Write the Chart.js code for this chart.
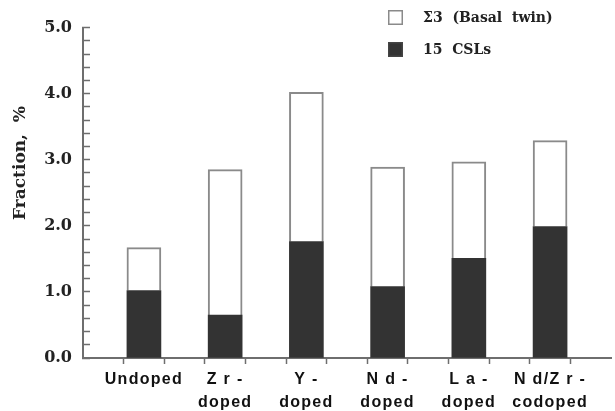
<!DOCTYPE html>
<html>
<head>
<meta charset="utf-8">
<script src="https://cdn.jsdelivr.net/npm/chart.js@4/dist/chart.umd.min.js"></script>
<style>
  html, body { margin: 0; padding: 0; background: #fff; }
  #wrap { width: 615px; height: 411px; position: relative; }
</style>
</head>
<body>
<div id="wrap"><canvas id="c"></canvas></div>
<script>
// values (fraction, %)
const CATEGORIES = [['Undoped'], ['Z r -', 'doped'], ['Y -', 'doped'], ['N d -', 'doped'], ['L a -', 'doped'], ['N d/Z r -', 'codoped']];
const CSL_15 = [1.02, 0.65, 1.76, 1.08, 1.51, 1.99];   // dark, bottom of stack
const SIGMA3 = [0.65, 2.20, 2.26, 1.81, 1.46, 1.30];   // white, on top
const SERIES_NAMES = ['15  CSLs', 'Σ3  (Basal  twin)'];
const Y_MAX = 5;

const AXIS = '#6e6e6e';
const isInt = v => Math.abs(v - Math.round(v)) < 1e-6;

// x ticks every quarter slot; only the ones flanking each bar get a mark
const X_MIN = -0.75, X_MAX = CATEGORIES.length - 0.25;
const X_TICKS = [];
for (let v = X_MIN; v <= X_MAX + 1e-6; v += 0.25) X_TICKS.push(v);
const X_TICK_COLORS = X_TICKS.map((v, k) => (k % 2 === 0 && k > 0 && k < X_TICKS.length - 1) ? AXIS : 'rgba(0,0,0,0)');

// legend box + rotated y title, drawn on the canvas
const extras = {
  id: 'extras',
  beforeDatasetsDraw(chart) {
    // x labels are drawn after this (ticks.z = 1), spaced like the original
    chart.ctx.letterSpacing = '1.3px';
  },
  afterDraw(chart) {
    const ctx = chart.ctx;
    ctx.save();
    ctx.letterSpacing = '0px';
    const sets = chart.data.datasets.slice().reverse();
    sets.forEach((ds, i) => {
      const y = 10 + i * 32;
      ctx.fillStyle = ds.backgroundColor;
      ctx.fillRect(388, y, 15, 15);
      ctx.strokeStyle = ds.legendBorder;
      ctx.lineWidth = 1.5;
      ctx.strokeRect(388.75, y + 0.75, 13.5, 13.5);
      ctx.fillStyle = '#222';
      ctx.font = 'bold 14px "DejaVu Serif"';
      ctx.textBaseline = 'middle';
      ctx.textAlign = 'left';
      ctx.fillText(ds.label, 423, y + 8);
    });
    ctx.translate(21, 163);
    ctx.rotate(-Math.PI / 2);
    ctx.font = 'bold 17px "DejaVu Serif"';
    ctx.textAlign = 'center';
    ctx.textBaseline = 'middle';
    ctx.fillText('Fraction,  %', 0, 0);
    ctx.restore();
  }
};

new Chart(document.getElementById('c'), {
  type: 'bar',
  data: {
    datasets: [
      { label: SERIES_NAMES[0], data: CSL_15.map((v, i) => ({ x: i, y: v })),
        backgroundColor: '#333333', borderWidth: 0, legendBorder: '#444' },
      { label: SERIES_NAMES[1], data: SIGMA3.map((v, i) => ({ x: i, y: v })),
        backgroundColor: '#ffffff', borderColor: '#8a8a8a', borderWidth: 2, legendBorder: '#8a8a8a' }
    ]
  },
  plugins: [extras],
  options: {
    responsive: true, maintainAspectRatio: false, animation: false,
    barThickness: 34,
    layout: { padding: { top: 19, right: 0, bottom: 0, left: 0 } },
    plugins: { legend: { display: false }, tooltip: { enabled: false } },
    scales: {
      x: {
        type: 'linear', stacked: true, offset: false, min: X_MIN, max: X_MAX,
        afterBuildTicks: s => { s.ticks = X_TICKS.map(v => ({ value: v })); },
        afterFit: s => { s.height = 53; },
        border: { color: AXIS, width: 2 },
        grid: { offset: false, drawOnChartArea: false, tickLength: 6, tickWidth: 1.5, tickColor: X_TICK_COLORS },
        ticks: {
          z: 1, autoSkip: false, maxRotation: 0, minRotation: 0, padding: 4,
          color: '#111',
          font: { family: '"Liberation Sans", Arial, sans-serif', weight: 'bold', size: 16, lineHeight: 1.45 },
          callback: v => (isInt(v) && v >= 0 && v < CATEGORIES.length) ? CATEGORIES[Math.round(v)] : ''
        }
      },
      y: {
        stacked: true, min: 0, max: Y_MAX,
        afterBuildTicks: s => {
          const t = [];
          for (let k = 0; k <= Y_MAX * 5; k++) t.push({ value: k / 5 });
          s.ticks = t;
        },
        afterFit: s => { s.width = 83; },
        border: { color: AXIS, width: 2 },
        grid: { drawOnChartArea: false, tickLength: -7, tickWidth: 1.5, tickColor: AXIS },
        ticks: {
          autoSkip: false, padding: 18, color: '#222',
          font: { family: '"DejaVu Serif", serif', weight: 'bold', size: 16 },
          callback: v => isInt(v) ? v.toFixed(1) : ''
        }
      }
    }
  }
});
</script>
</body>
</html>
